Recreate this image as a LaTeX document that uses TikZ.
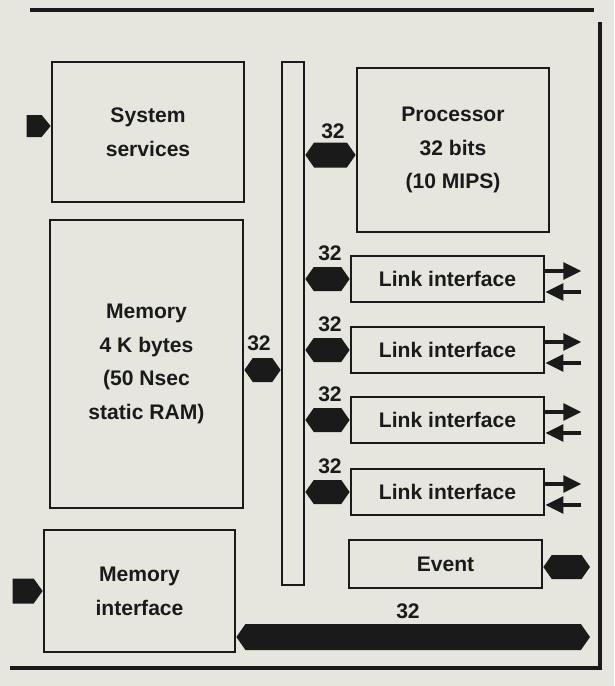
\documentclass[tikz,border=0pt]{standalone}
\usepackage{fontspec}
\setmainfont{Liberation Sans}
\usepackage{tikz}
\usetikzlibrary{arrows.meta, positioning, calc}
\definecolor{tpPaper}{HTML}{E6E6DF}
\definecolor{tpInk}{HTML}{1A1A1A}
\newcommand{\tpfont}{\fontsize{15}{24}\selectfont\bfseries}
% filled bus connector, pointed at both ends: from, to, half height
\newcommand{\tphex}[3]{%
  \fill[tpbus] (#1) -- ++({0.7*#3},-#3) -- ($(#2)+({-0.7*#3},-#3)$) -- (#2)
    -- ($(#2)+({-0.7*#3},#3)$) -- ($(#1)+({0.7*#3},#3)$) -- cycle;}
\tikzset{
  tpbox/.style={draw=tpInk, line width=1.9pt, font=\tpfont, text=tpInk, align=center, inner sep=0pt},
  tpbar/.style={draw=tpInk, line width=1.9pt, inner sep=0pt},
  tpbus/.style={fill=tpInk},
  tpwidth/.style={font=\tpfont, text=tpInk, inner sep=1pt},
  tpsig/.style={-{Triangle[length=4.5mm, width=4.2mm]}, line width=2.2pt, tpInk},
  tpframe/.style={line width=3.5pt, tpInk}
}
\begin{document}
\begin{tikzpicture}[x=0.025cm, y=-0.025cm]
  \fill[tpPaper] (0,0) rectangle (614,686);
  \useasboundingbox (0,0) rectangle (614,686);
  % frame
  \draw[tpframe] (30,10) -- (594,10);
  \draw[tpframe] (10,668) -- (600,668) -- (600,22);
  % left column
  \node[tpbox, minimum width=4.8cm, minimum height=3.5cm] (sys) at (148,132) {System\\services};
  \node[tpbox, minimum width=4.825cm, minimum height=7.2cm] (mem) at (146.5,364) {Memory\\4 K bytes\\(50 Nsec\\static RAM)};
  \node[tpbox, minimum width=4.775cm, minimum height=3.05cm] (memif) at (139.5,591) {Memory\\interface};
  % internal bus
  \node[tpbar, minimum width=0.55cm, minimum height=13.075cm] (bar) at (293,323.5) {};
  % right column
  \node[tpbox, minimum width=4.8cm, minimum height=4.1cm] (proc) at (453,150) {Processor\\32 bits\\(10 MIPS)};
  \node[tpbox, minimum width=4.825cm, minimum height=1.2cm] (event) at (445.5,564) {Event};
  \foreach \i/\y in {1/279, 2/350, 3/420, 4/492} {
    \node[tpbox, minimum width=4.825cm, minimum height=1.15cm] (link\i) at (447.5,\y) {Link interface};
    \tphex{bar.east |- link\i.west}{link\i.west}{12}
    \node[tpwidth] (w\i) at (330,\y-26) {32};
    \draw[tpsig] ([yshift=0.2cm]link\i.east) -- ++(36,0);
    \draw[tpsig] ([yshift=-0.325cm, xshift=0.9cm]link\i.east) -- ([yshift=-0.325cm]link\i.east);
  }
  % width tags and bus connectors
  \tphex{bar.east |- 0,155}{proc.west |- 0,155}{12.5}
  \node[tpwidth] (wproc) at (333,131) {32};
  \tphex{[yshift=-0.15cm]mem.east}{bar.west |- 0,370}{12}
  \node[tpwidth] (wmem) at (259,343) {32};
  \coordinate (evtend) at (590,567);
  \tphex{event.east |- evtend}{evtend}{12}
  \coordinate (busend) at (590,637);
  \tphex{memif.east |- busend}{busend}{13}
  \node[tpwidth] (wbus) at (408,611) {32};
  % external inputs
  \fill[tpbus] ([yshift=0.15cm]sys.west) -- ++(-9,-11) -- ++(-15,0) -- ++(0,22) -- ++(15,0) -- cycle;
  \fill[tpbus] (memif.west) -- ++(-9,-12.5) -- ++(-21,0) -- ++(0,25) -- ++(21,0) -- cycle;
\end{tikzpicture}
\end{document}
